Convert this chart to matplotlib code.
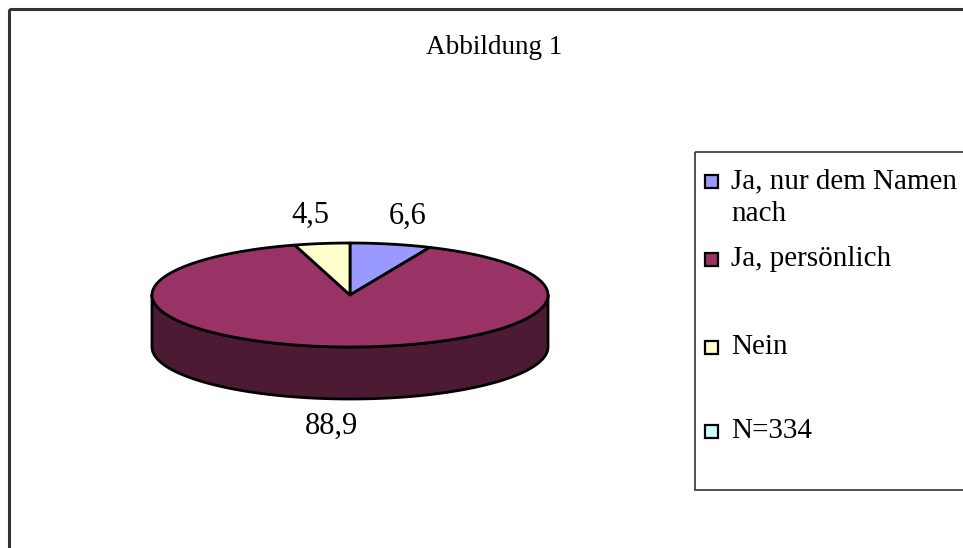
import numpy as np
import matplotlib.pyplot as plt
from matplotlib.patches import Polygon, Rectangle

plt.rcParams["font.family"] = ["Liberation Serif", "DejaVu Serif"]

# data
categories = ["Ja, nur dem Namen\nnach", "Ja, persönlich", "Nein", "N=334"]
values = [6.6, 88.9, 4.5, 0.0]
value_labels = ["6,6", "88,9", "4,5", ""]
top_colors = ["#9999FF", "#993366", "#FFFFCC", "#CCFFFF"]
side_colors = ["#4D4D80", "#4D1A33", "#808066", "#668080"]

# pie geometry in pixel coordinates
cx, cy, rx, ry, depth = 350, 295, 198, 52, 52


def ell(t, dy=0.0, sx=rx, sy=ry):
    t = np.radians(t)
    return cx + sx * np.sin(t), cy - sy * np.cos(t) + dy


fig = plt.figure(figsize=(9.63, 5.48), dpi=100)
ax = fig.add_axes([0, 0, 1, 1])
ax.set_xlim(0, 963)
ax.set_ylim(548, 0)
ax.axis("off")

total = sum(values)
angles = np.concatenate([[0], np.cumsum(values) / total * 360])

# side walls (front half only)
for i in range(len(values)):
    a0, a1 = angles[i], angles[i + 1]
    s0, s1 = max(a0, 90), min(a1, 270)
    if s1 <= s0:
        continue
    t = np.linspace(s0, s1, 200)
    xt, yt = ell(t)
    xb, yb = ell(t[::-1], dy=depth)
    pts = np.column_stack([np.concatenate([xt, xb]), np.concatenate([yt, yb])])
    ax.add_patch(Polygon(pts, closed=True, facecolor=side_colors[i],
                         edgecolor="black", linewidth=2.0, joinstyle="round"))

# top faces
for i in range(len(values)):
    a0, a1 = angles[i], angles[i + 1]
    if a1 <= a0:
        continue
    t = np.linspace(a0, a1, 300)
    xt, yt = ell(t)
    pts = np.column_stack([np.concatenate([[cx], xt]), np.concatenate([[cy], yt])])
    ax.add_patch(Polygon(pts, closed=True, facecolor=top_colors[i],
                         edgecolor="black", linewidth=2.0, joinstyle="round"))

# value labels
for i in range(len(values)):
    if not value_labels[i]:
        continue
    mid = (angles[i] + angles[i + 1]) / 2
    front = 90 < mid < 270
    lx, ly = ell(mid, dy=depth if front else 0, sx=280, sy=80)
    ax.text(lx, ly, value_labels[i], fontsize=22, ha="center", va="center")

ax.text(494, 54, "Abbildung 1", fontsize=19.5, ha="center", va="baseline")

# legend
ax.add_patch(Rectangle((695, 152), 400, 338, fill=False, edgecolor="#333333",
                       linewidth=1.2))
legend_y = [181, 259, 347, 431]
for i, lab in enumerate(categories):
    y = legend_y[i]
    ax.add_patch(Rectangle((705, y - 6.5), 13, 13, facecolor=top_colors[i],
                           edgecolor="black", linewidth=1.6))
    for k, line in enumerate(lab.split("\n")):
        ax.text(731, y + 7 + k * 33, line, fontsize=21, ha="left",
                va="baseline")

# outer frame
ax.add_patch(Rectangle((9, 9), 1000, 600, fill=False, edgecolor="#333333",
                       linewidth=2.2))

fig.savefig("out.png", dpi=100, facecolor="white")
